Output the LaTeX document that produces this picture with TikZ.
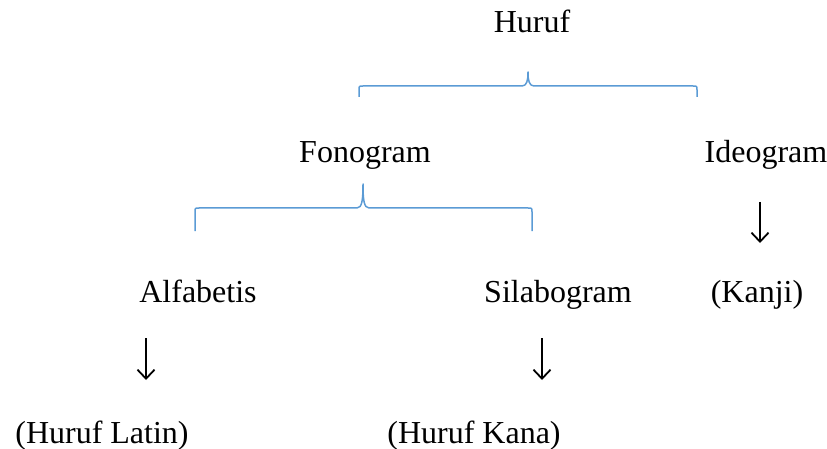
\documentclass[tikz,border=0pt]{standalone}
\usepackage{fontspec}
\setmainfont{Liberation Serif}
\usetikzlibrary{arrows.meta}
\definecolor{braceblue}{RGB}{91,155,213}
\begin{document}
\begin{tikzpicture}[x=1pt,y=-1pt,
  lbl/.style={anchor=base,inner sep=0pt,font=\fontsize{32}{38}\selectfont},
  bracepath/.style={draw=braceblue,line width=1.5pt,line join=round},
  downarrow/.style={draw=black,line width=1.8pt,-{Straight Barb[length=9pt,width=17pt,line width=1.8pt]}}]
\useasboundingbox (0,0) rectangle (827,449);
\node[lbl] (huruf) at (532,33) {Huruf};
\node[lbl] (fono) at (365,163) {Fonogram};
\node[lbl] (ideo) at (766,163) {Ideogram};
\node[lbl] (alfa) at (198,302) {Alfabetis};
\node[lbl] (sila) at (558,302) {Silabogram};
\node[lbl] (kanji) at (757,302) {(Kanji)};
\node[lbl] (latin) at (102,443) {(Huruf Latin)};
\node[lbl] (kana) at (474,443) {(Huruf Kana)};
% braces
\path[bracepath] (359,97) -- (359,90) .. controls (359,86) .. (363,86) -- (522,86)
  .. controls (527,86) and (528,80) .. (528,72)
  .. controls (528,80) and (529,86) .. (534,86) -- (693,86)
  .. controls (697,86) .. (697,90) -- (697,97);
\path[bracepath] (195,231) -- (195,212) .. controls (195,208) .. (199,208) -- (357,208)
  .. controls (362,208) and (363,200) .. (363,184)
  .. controls (363,200) and (364,208) .. (369,208) -- (528,208)
  .. controls (532,208) .. (532,212) -- (532,231);
% arrows
\coordinate (a1s) at (760,202); \coordinate (a1e) at (760,243);
\coordinate (a2s) at (146,338); \coordinate (a2e) at (146,380);
\coordinate (a3s) at (542,338); \coordinate (a3e) at (542,380);
\path[downarrow] (a1s) -- (a1e);
\path[downarrow] (a2s) -- (a2e);
\path[downarrow] (a3s) -- (a3e);
\end{tikzpicture}
\end{document}
